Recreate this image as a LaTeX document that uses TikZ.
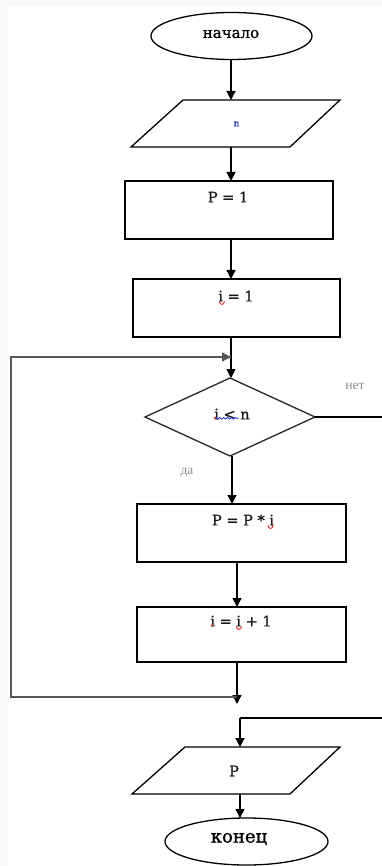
\documentclass[tikz,border=0pt]{standalone}
\usepackage{fontspec}
\newfontfamily\cyrserif[FakeBold=1.2]{DejaVu Serif}
\newfontfamily\lblserif{Liberation Serif}
\usetikzlibrary{shapes.geometric,arrows.meta,decorations.pathmorphing}
\definecolor{bgband}{HTML}{F7F8F8}
\definecolor{loopgray}{HTML}{555555}
\definecolor{lblgray}{HTML}{8A8A8A}
\definecolor{spellred}{HTML}{E02020}
\definecolor{spellblue}{HTML}{2B3FE0}
\tikzset{
  every node/.style={inner sep=0pt, outer sep=0pt},
  frame/.style={draw=black, line width=1.3pt},
  procbox/.style={frame, rectangle},
  term/.style={frame, ellipse},
  hollow/.style={rectangle},
  txt/.style={font=\cyrserif\fontsize{14.5}{17}\selectfont, text=black!90},
  cyrtxt/.style={font=\cyrserif\fontsize{15}{17}\selectfont, text=black},
  smalllbl/.style={font=\lblserif\fontsize{13.5}{15}\selectfont, text=lblgray},
  flow/.style={line width=1.3pt, -{Triangle[length=9pt,width=9pt]}},
  plain/.style={line width=1.3pt},
  loopline/.style={line width=1.6pt, draw=loopgray},
  curl/.style={draw=spellred, line width=0.9pt},
  wavy/.style={draw=spellblue, line width=0.9pt, decorate, decoration={snake, amplitude=0.8pt, segment length=4pt}},
}
\begin{document}
\begin{tikzpicture}[x=1pt,y=-1pt]
\useasboundingbox (0,0) rectangle (382,866);
\fill[bgband] (0,0) rectangle (382,7);
\fill[bgband] (0,0) rectangle (8,866);

% start
\node[term, minimum width=161pt, minimum height=47pt] (start) at (231.5,36) {};
\node[cyrtxt] (tstart) at (231,34) {начало};

% input parallelogram
\node[hollow, minimum width=209pt, minimum height=47pt] (in) at (235.5,123.5) {};
\draw[frame] ([xshift=52pt]in.north west) -- (in.north east) -- ([xshift=-50pt]in.south east) -- (in.south west) -- cycle;
\node[txt, font=\cyrserif\fontsize{9}{10}\selectfont, text=spellblue!80!black] (tin) at (236.5,124) {n};

% P = 1
\node[procbox, minimum width=208pt, minimum height=58pt] (b1) at (229,210) {};
\node[txt] (tb1) at (228,197) {P = 1};

% i = 1
\node[procbox, minimum width=207pt, minimum height=58pt] (b2) at (236.5,308) {};
\node[txt] (tb2) at (236,296) {i = 1};

% decision
\node[hollow, minimum width=170pt, minimum height=78pt] (dec) at (230,417) {};
\draw[frame, draw=black!85] (dec.north) -- (dec.east) -- (dec.south) -- (dec.west) -- cycle;
\node[txt] (tdec) at (232,414) {i < n};

% P = P * i
\node[procbox, minimum width=209pt, minimum height=58pt] (b3) at (241.5,533) {};
\node[txt] (tb3) at (243,520) {P = P * i};

% i = i + 1
\node[procbox, minimum width=209pt, minimum height=55pt] (b4) at (241.5,634.5) {};
\node[txt] (tb4) at (241,621) {i = i + 1};

% output parallelogram
\node[hollow, minimum width=208pt, minimum height=47pt] (out) at (236,770.5) {};
\draw[frame] ([xshift=53pt]out.north west) -- (out.north east) -- ([xshift=-50pt]out.south east) -- (out.south west) -- cycle;
\node[txt] (tout) at (234,771) {P};

% end
\node[term, minimum width=163pt, minimum height=47pt] (stop) at (246.5,841.5) {};
\node[cyrtxt, font=\cyrserif\fontsize{18}{20}\selectfont] (tstop) at (239,839) {конец};

% labels
\node[smalllbl] (lno) at (355,386) {нет};
\node[smalllbl] (lyes) at (187,473) {да};

% spell-check marks
\draw[wavy] ([xshift=0pt,yshift=1pt]tdec.south west) -- ++(24,0);
\fill[spellred] ([xshift=1pt,yshift=1.5pt]tdec.south west) circle (1.3pt);
\draw[curl] ([xshift=1pt,yshift=0pt]tb2.south west) .. controls +(0,4) and +(0,4) .. +(5,0);
\draw[curl] ([xshift=-6pt,yshift=0pt]tb3.south east) .. controls +(0,4) and +(0,4) .. +(5,0);
\fill[spellred] ([xshift=2pt,yshift=1.5pt]tb4.south west) circle (1.2pt);
\draw[curl] ([xshift=26pt,yshift=0pt]tb4.south west) .. controls +(0,4) and +(0,4) .. +(5,0);

% helper coordinates
\coordinate (joinTop) at (231,357);
\coordinate (loopL1) at (11,357);
\coordinate (loopL2) at (11,697);
\coordinate (loopB) at (237,697);
\coordinate (freeEnd) at (237,704);
\coordinate (noEnd) at (382,417);
\coordinate (noIn) at (382,718);
\coordinate (noTurn) at (240,718);

% connectors
\draw[flow] (start.south -| 231,0) -- (231,100);
\draw[flow] (231,147) -- (231,181);
\draw[flow] (231,239) -- (231,279);
\draw[plain] (231,337) -- (joinTop);
\draw[flow] (joinTop) -- (dec.north -| 231,0);
\draw[flow] (dec.south -| 232,0) -- (b3.north -| 232,0);
\draw[flow] (b3.south -| 237,0) -- (b4.north -| 237,0);
\draw[flow] (b4.south -| 237,0) -- (freeEnd);
\draw[loopline] (loopB) -- (loopL2) -- (loopL1) -- (joinTop);
\draw[flow, draw=loopgray] (loopL1) -- (joinTop);
\draw[plain] (dec.east) -- (noEnd);
\draw[plain] (noIn) -- (noTurn);
\draw[flow] (noTurn) -- (out.north -| 240,0);
\draw[flow] (out.south -| 240,0) -- (stop.north -| 240,0);
\end{tikzpicture}
\end{document}
